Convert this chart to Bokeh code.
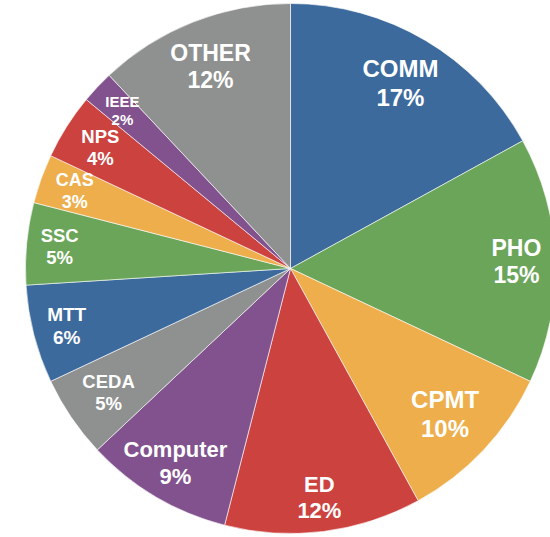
import math
from bokeh.plotting import figure
from bokeh.models import Range1d, ColumnDataSource
from bokeh.core.properties import value
from bokeh.embed import file_html
from bokeh.resources import INLINE

# Share of each group, clockwise from twelve o'clock
groups = ["COMM", "PHO", "CPMT", "ED", "Computer", "CEDA",
          "MTT", "SSC", "CAS", "NPS", "IEEE", "OTHER"]
shares = [17, 15, 10, 12, 9, 5, 6, 5, 3, 4, 2, 12]

# Label styling: font size (px) and distance from the centre as a fraction of the radius
label_size = [24, 23, 24, 22, 22, 18.5, 19, 18.5, 18, 18.5, 15, 23]
label_dist = [0.815, 0.853, 0.80, 0.87, 0.853, 0.83, 0.872, 0.875, 0.865, 0.85, 0.87, 0.82]

palette = ["#3C6A9C", "#6BA55A", "#EDAE4B", "#CC423F", "#82528E", "#8F9190"]

R = 265.0

total = float(sum(shares))
starts, ends, colors = [], [], []
lx, ly = [], []
cum = 0.0
for i, v in enumerate(shares):
    a0 = math.pi / 2 - 2 * math.pi * cum / total
    a1 = math.pi / 2 - 2 * math.pi * (cum + v) / total
    starts.append(a0)
    ends.append(a1)
    colors.append(palette[i % len(palette)])
    mid = (a0 + a1) / 2
    lr = label_dist[i] * R
    lx.append(lr * math.cos(mid))
    ly.append(lr * math.sin(mid))
    cum += v

wedges = ColumnDataSource(dict(start=starts, end=ends, color=colors))

p = figure(width=550, height=537, output_backend="svg", toolbar_location=None,
           x_range=Range1d(-290, 260), y_range=Range1d(-269, 268),
           min_border=0, outline_line_color=None)
p.axis.visible = False
p.grid.visible = False
p.background_fill_color = "white"
p.border_fill_color = "white"

p.wedge(x=0, y=0, radius=R, start_angle="start", end_angle="end",
        direction="clock", fill_color="color", line_color="white",
        line_width=0.6, source=wedges)

for x, y, g, v, s in zip(lx, ly, groups, shares, label_size):
    off = 0.6 * s
    for txt, dy in ((g, -off), (f"{v}%", off)):
        p.text(x=[x], y=[y], text=[txt], text_align="center",
               text_baseline="middle", y_offset=dy, text_color="white",
               text_font=value("Liberation Sans"), text_font_style="bold",
               text_font_size=f"{s}px")

open("out.html", "w").write(file_html(p, INLINE))
